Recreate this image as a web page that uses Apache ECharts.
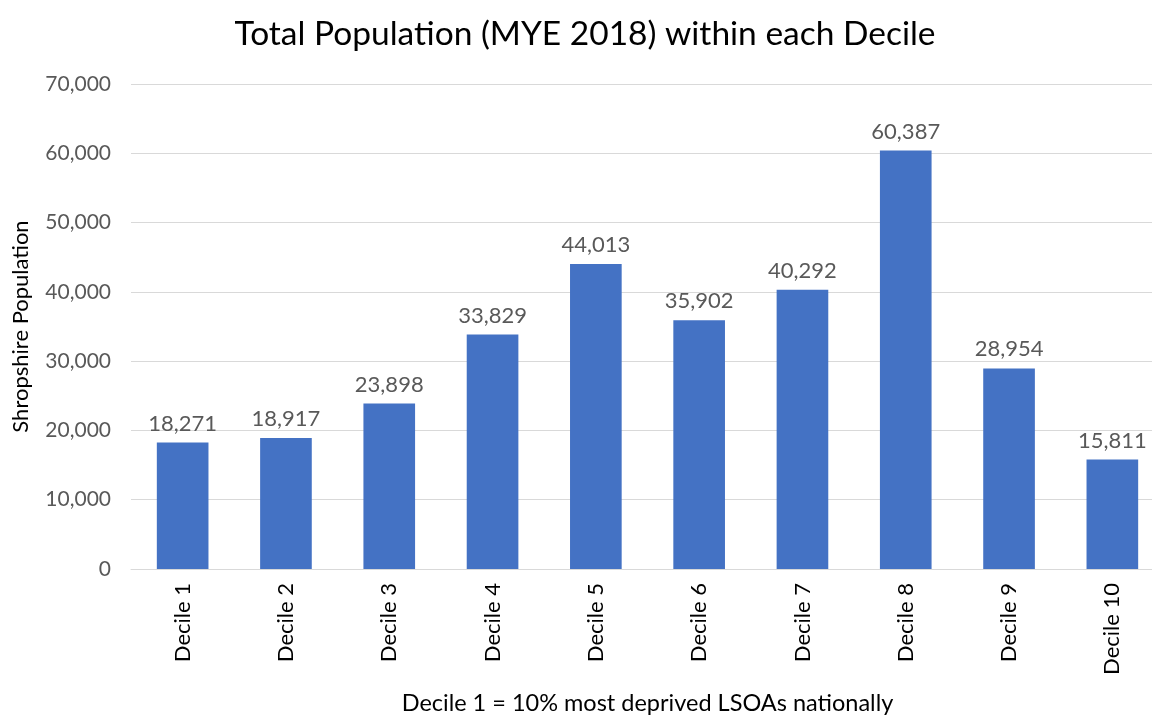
<!DOCTYPE html>
<html lang="en">
<head>
    <meta charset="UTF-8">
    <title>Total Population</title>
    <script src="https://cdn.jsdelivr.net/npm/echarts@6/dist/echarts.min.js"></script>
    <style>
        body { margin: 0; background: #fff; }
    </style>
</head>
<body>
<div id="main" style="width: 1152px;height:716px;"></div>
<script>
    const categories = ['Decile 1', 'Decile 2', 'Decile 3', 'Decile 4', 'Decile 5',
        'Decile 6', 'Decile 7', 'Decile 8', 'Decile 9', 'Decile 10'];
    const population = [18271, 18917, 23898, 33829, 44013, 35902, 40292, 60387, 28954, 15811];

    let chartDom = document.getElementById('main');
    let myChart = echarts.init(chartDom);
    const font = 'Lato';
    let option = {
        title: {
            text: 'Total Population (MYE 2018) within each Decile',
            left: 580,
            top: 12,
            textAlign: 'center',
            textStyle: { fontFamily: font, fontSize: 33.5, fontWeight: 'normal', color: '#000' }
        },
        grid: { left: 131, width: 1033, top: 84, bottom: 147, containLabel: false, outerBoundsMode: 'none' },
        xAxis: {
            type: 'category',
            data: categories,
            name: 'Decile 1 = 10% most deprived LSOAs nationally',
            nameLocation: 'middle',
            nameGap: 122,
            nameTextStyle: { fontFamily: font, fontSize: 23.5, color: '#000' },
            axisLine: { lineStyle: { color: '#d9d9d9', width: 1 } },
            axisTick: { show: false },
            axisLabel: { rotate: 90, fontFamily: font, fontSize: 22, color: '#000', margin: 14 }
        },
        yAxis: {
            type: 'value',
            min: 0,
            max: 70000,
            interval: 10000,
            name: 'Shropshire Population',
            nameLocation: 'middle',
            nameGap: 99,
            nameTextStyle: { fontFamily: font, fontSize: 22, color: '#000' },
            axisLabel: {
                fontFamily: font, fontSize: 21, color: '#595959', margin: 20,
                formatter: function (v) { return v.toLocaleString('en-GB'); }
            },
            splitLine: { lineStyle: { color: '#d9d9d9', width: 1 } }
        },
        series: [
            {
                type: 'bar',
                data: population,
                barWidth: '50%',
                itemStyle: { color: '#4472C4' },
                label: {
                    show: true,
                    position: 'top',
                    distance: 8,
                    fontFamily: font,
                    fontSize: 22,
                    color: '#595959',
                    formatter: function (p) { return p.value.toLocaleString('en-GB'); }
                }
            }
        ]
    };
    myChart.setOption(option);
</script>
</body>
</html>
